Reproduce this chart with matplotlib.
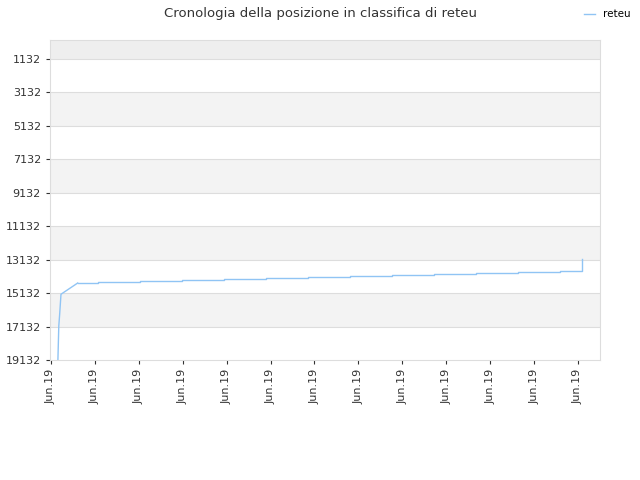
import matplotlib
matplotlib.use("Agg")
import matplotlib.pyplot as plt

x = [0.16, 0.18, 0.20, 0.23, 0.61, 1.07, 2.03, 2.98, 3.94, 4.90, 5.85, 6.81, 7.76, 8.72, 9.68, 10.63, 11.59, 12.09, 12.10]
rank = [19132, 17100, 16400, 15200, 14530, 14480, 14420, 14360, 14300, 14240, 14180, 14120, 14060, 14000, 13940, 13880, 13820, 13300, 13100]
yticks = [1132, 3132, 5132, 7132, 9132, 11132, 13132, 15132, 17132, 19132]
xlabels = ["Jun.19"] * 13

fig = plt.figure(figsize=(6.4, 4.8), dpi=100)
ax = fig.add_axes([50/640, 1-360/480, 550/640, 320/480])
ax.set_ylim(19132, 0)
ax.set_xlim(-0.02, 12.5)
ax.axhspan(0, 1132, color="#eeeeee", lw=0)
for i, t in enumerate(yticks[:-1]):
    ax.axhspan(t, t+2000, color="white" if i % 2 == 0 else "#f3f3f3", lw=0)
    ax.axhline(t, color="#dddddd", lw=0.8)
c = "#90c4f4"
ax.plot(x[:5], rank[:5], color=c, lw=1, label="reteu")
ax.plot(x[4:], rank[4:], color=c, lw=1, drawstyle="steps-post")
ax.set_yticks(yticks)
ax.set_xticks(range(13))
ax.set_xticklabels(xlabels, rotation=90)
ax.tick_params(labelsize=8, colors="#333333", length=3)
for s in ax.spines.values():
    s.set_color("#dddddd")
fig.suptitle("Cronologia della posizione in classifica di reteu", x=0.5, y=0.985, fontsize=9.5, color="#333333")
fig.legend(loc="upper right", bbox_to_anchor=(1.0, 1.0), frameon=False, fontsize=7.5, handlelength=1)
fig.savefig("out.png")
